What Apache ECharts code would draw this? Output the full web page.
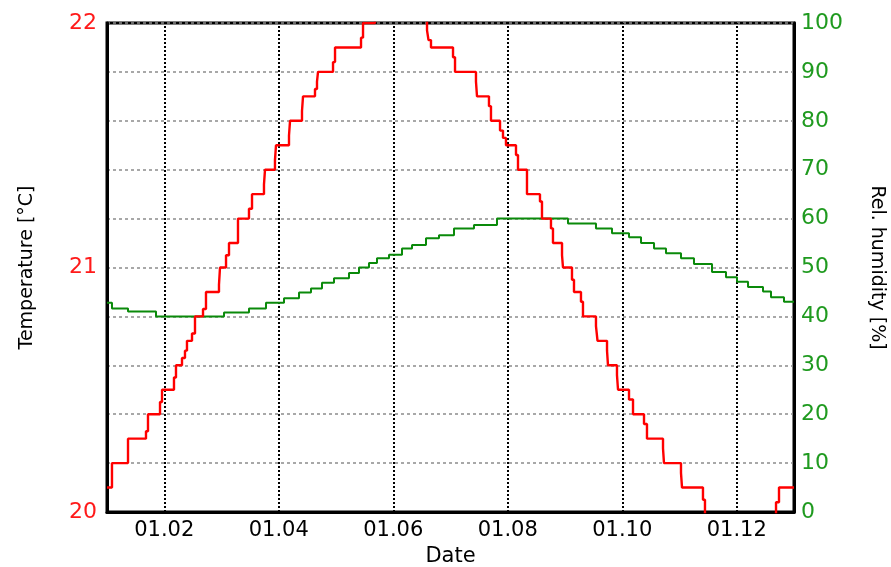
<!DOCTYPE html>
<html><head><meta charset="utf-8">
<script src="https://cdn.jsdelivr.net/npm/echarts@6/dist/echarts.min.js"></script>
<style>html,body{margin:0;padding:0;background:#fff}#c{width:891px;height:567px}</style>
</head><body><div id="c"></div>
<script>
// Temperature [°C]: time (day of month 01.xx) at which a new reading starts, and that reading
const tempTimes = [1.000,1.087,1.367,1.681,1.716,1.926,1.961,2.170,2.205,2.310,2.362,2.397,2.485,2.537,2.677,2.729,2.956,2.974,3.079,3.131,3.288,3.480,3.533,3.742,3.760,3.934,3.952,4.179,4.197,4.406,4.424,4.633,4.668,4.686,4.948,4.983,5.437,5.472,5.681,5.943,6.293,6.590,6.616,6.659,7.044,7.079,7.445,7.463,7.672,7.707,7.865,7.917,7.969,8.144,8.179,8.336,8.563,8.598,8.755,8.790,8.948,8.965,9.122,9.157,9.279,9.314,9.541,9.568,9.734,9.751,9.908,9.926,10.118,10.188,10.380,10.432,10.712,10.729,11.026,11.044,11.410,11.445,11.795,12.406,12.686,12.738,13.000];
const tempValues = [20.10,20.20,20.30,20.33,20.40,20.45,20.50,20.55,20.60,20.63,20.66,20.70,20.73,20.80,20.83,20.90,20.93,21.00,21.05,21.10,21.20,21.24,21.30,21.34,21.40,21.44,21.50,21.54,21.60,21.64,21.70,21.73,21.76,21.80,21.84,21.90,21.94,22.00,22.05,22.10,22.05,21.97,21.93,21.90,21.86,21.80,21.76,21.70,21.66,21.60,21.56,21.53,21.50,21.46,21.40,21.30,21.27,21.20,21.16,21.10,21.05,21.00,20.95,20.90,20.86,20.80,20.76,20.70,20.66,20.60,20.56,20.50,20.46,20.40,20.36,20.30,20.26,20.20,20.16,20.10,20.05,19.95,19.90,19.95,20.04,20.10,20.10];
// Relative humidity [%]
const humTimes = [1.000,1.087,1.367,1.856,3.044,3.480,3.777,4.092,4.354,4.563,4.755,4.965,5.227,5.402,5.576,5.716,5.926,6.153,6.328,6.572,6.799,7.061,7.410,7.812,9.052,9.541,9.821,10.118,10.328,10.555,10.764,11.026,11.253,11.568,11.812,12.004,12.197,12.459,12.598,12.825,13.000];
const humValues = [42.8,41.6,41.0,40.0,40.8,41.6,42.8,43.7,44.9,45.7,46.9,47.8,48.9,50.0,50.9,51.9,52.6,53.9,54.6,56.0,56.6,58.0,58.7,60.0,59.0,58.0,57.0,56.2,55.0,53.9,52.9,51.9,50.7,49.1,48.0,47.1,46.0,45.1,43.9,43.0,43.0];
// Axis ticks
const dateTicks = [2,4,6,8,10,12];
const tempTickLabels = [20,21,22];

function stepPoints(times, vals){
  const pts = [];
  for (let i = 0; i < times.length; i++) {
    pts.push([times[i], vals[i]]);
    if (i < times.length - 1) pts.push([times[i+1], vals[i]]);
  }
  return pts;
}
const FONT = 'DejaVu Sans';
const chart = echarts.init(document.getElementById('c'));
chart.setOption({
  animation: false,
  backgroundColor: '#fff',
  grid: { left: 107, right: 97, top: 23, bottom: 55, outerBoundsMode: 'none', containLabel: false, show: true, borderColor: '#000', borderWidth: 3, backgroundColor: 'transparent' },
  xAxis: {
    type: 'value', min: 1, max: 13, interval: 1,
    name: 'Date', nameLocation: 'middle', nameGap: 33,
    nameTextStyle: { color: '#000', fontSize: 21, fontFamily: FONT },
    axisLine: { lineStyle: { color: '#000', width: 3 } },
    axisTick: { show: false },
    splitLine: { show: false },
    axisLabel: {
      color: '#000', fontSize: 21, fontFamily: FONT, margin: 8,
      formatter: v => { const r = Math.round(v); return (Math.abs(v - r) < 1e-6 && dateTicks.includes(r)) ? '01.' + String(r).padStart(2, '0') : ''; }
    }
  },
  yAxis: [{
    type: 'value', min: 20, max: 22, interval: 0.2, position: 'left',
    name: 'Temperature [°C]', nameLocation: 'middle', nameGap: 70, nameRotate: 90,
    nameTextStyle: { color: '#000', fontSize: 19, fontFamily: FONT },
    axisLine: { show: true, lineStyle: { color: '#000', width: 3 } },
    axisTick: { show: false },
    splitLine: { show: false },
    axisLabel: {
      color: '#ff1a1a', fontSize: 22, fontFamily: FONT, margin: 10,
      formatter: v => { const r = Math.round(v); return (Math.abs(v - r) < 1e-6 && tempTickLabels.includes(r)) ? String(r) : ''; }
    }
  }, {
    type: 'value', min: 0, max: 100, interval: 10, position: 'right',
    name: 'Rel. humidity [%]', nameLocation: 'middle', nameGap: 73, nameRotate: -90,
    nameTextStyle: { color: '#000', fontSize: 19, fontFamily: FONT },
    axisLine: { show: true, lineStyle: { color: '#000', width: 3 } },
    axisTick: { show: false },
    splitLine: { show: true, lineStyle: { color: '#8c8c8c', width: 1.5, type: [3, 3] } },
    axisLabel: { color: '#1f9a1f', fontSize: 22, fontFamily: FONT, margin: 7 }
  }],
  series: [{
    type: 'line', name: 'grid', data: [], z: 2, silent: true,
    markLine: {
      silent: true, symbol: ['none', 'none'], label: { show: false },
      lineStyle: { color: '#000', width: 2, type: [2, 2] },
      data: dateTicks.map(d => ({ xAxis: d }))
    }
  }, {
    type: 'line', name: 'Rel. humidity', yAxisIndex: 1, z: 10,
    data: stepPoints(humTimes, humValues), showSymbol: false, clip: true,
    lineStyle: { color: '#0a8a0a', width: 2 }
  }, {
    type: 'line', name: 'Temperature', yAxisIndex: 0, z: 11,
    data: stepPoints(tempTimes, tempValues), showSymbol: false, clip: true,
    lineStyle: { color: '#ff0000', width: 2.4 }
  }]
});
</script></body></html>
